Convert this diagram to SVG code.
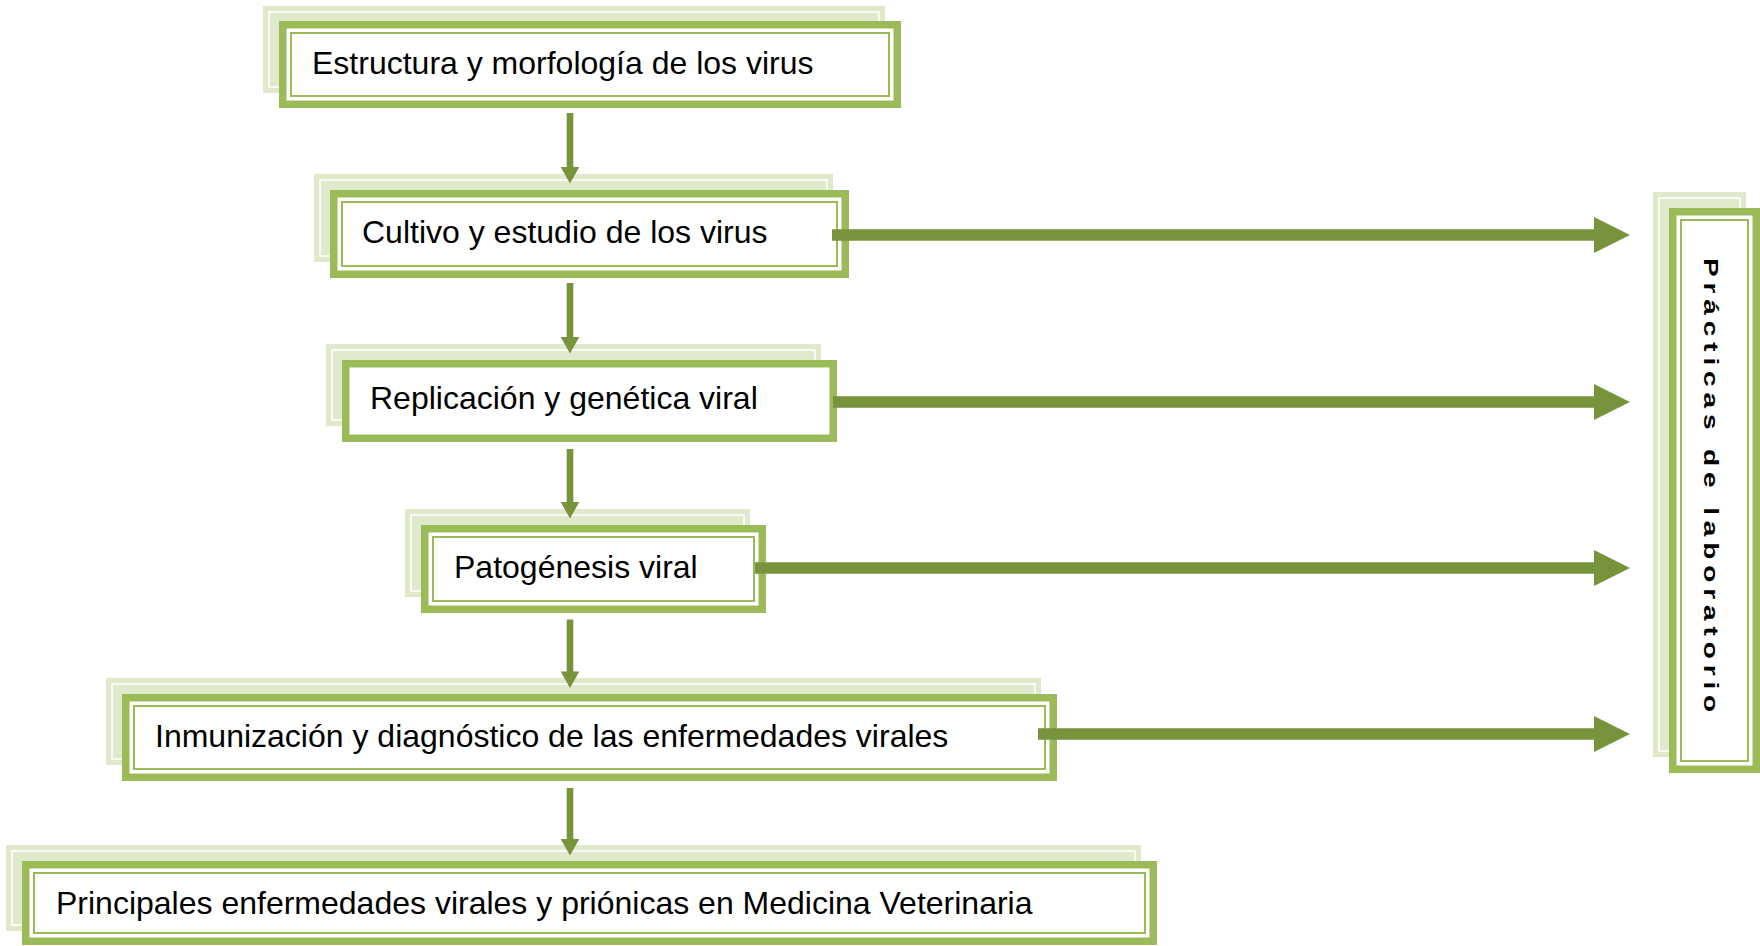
<svg xmlns="http://www.w3.org/2000/svg" width="1760" height="946" viewBox="0 0 1760 946">
<style>
.sh{fill:#e0e9cc}
.shl{fill:none;stroke:#fff;stroke-width:1.5}
.bx{fill:#fff;stroke:#9bbb59;stroke-width:7.5}
.in{fill:none;stroke:#9bbb59;stroke-width:2}
.t{font-family:"Liberation Sans",Arial,sans-serif;font-size:32px;fill:#000}
.vt{font-family:"Liberation Sans",Arial,sans-serif;font-size:20px;font-weight:bold;fill:#000;letter-spacing:4.2px}
.ar{fill:#77933c}
</style>
<rect width="1760" height="946" fill="#fff"/>
<g id="node1">
<rect class="sh" x="263" y="6" width="622" height="87"/>
<rect class="shl" x="269" y="12" width="610" height="75"/>
<rect class="bx" x="282.75" y="24.75" width="614.5" height="79.5"/>
<rect class="in" x="291" y="33" width="598" height="63"/>
<text class="t" x="312" y="74">Estructura y morfología de los virus</text>
</g>
<g id="node2">
<rect class="sh" x="314" y="174" width="519" height="88"/>
<rect class="shl" x="320" y="180" width="507" height="76"/>
<rect class="bx" x="333.75" y="193.75" width="511.5" height="80.5"/>
<rect class="in" x="342" y="202" width="495" height="64"/>
<text class="t" x="362" y="243">Cultivo y estudio de los virus</text>
</g>
<g id="node3">
<rect class="sh" x="326" y="344" width="495" height="82"/>
<rect class="shl" x="332" y="350" width="483" height="70"/>
<rect class="bx" x="345.75" y="363.75" width="487.5" height="74.5"/>
<text class="t" x="370" y="409">Replicación y genética viral</text>
</g>
<g id="node4">
<rect class="sh" x="405" y="509" width="345" height="88"/>
<rect class="shl" x="411" y="515" width="333" height="76"/>
<rect class="bx" x="424.75" y="528.75" width="337.5" height="80.5"/>
<rect class="in" x="433" y="537" width="321" height="64"/>
<text class="t" x="454" y="578">Patogénesis viral</text>
</g>
<g id="node5">
<rect class="sh" x="106" y="678" width="935" height="87"/>
<rect class="shl" x="112" y="684" width="923" height="75"/>
<rect class="bx" x="125.75" y="697.75" width="927.5" height="79.5"/>
<rect class="in" x="134" y="706" width="911" height="63"/>
<text class="t" x="155" y="747">Inmunización y diagnóstico de las enfermedades virales</text>
</g>
<g id="node6">
<rect class="sh" x="6" y="845" width="1135" height="86"/>
<rect class="shl" x="12" y="851" width="1123" height="74"/>
<rect class="bx" x="25.75" y="864.75" width="1127.5" height="76.5"/>
<rect class="in" x="34" y="873" width="1111" height="60"/>
<text class="t" x="56" y="914">Principales enfermedades virales y priónicas en Medicina Veterinaria</text>
</g>
<g id="node7">
<rect class="sh" x="1653" y="192" width="93" height="565"/>
<rect class="shl" x="1659" y="198" width="81" height="553"/>
<rect class="bx" x="1672.75" y="211.75" width="83.5" height="557.5"/>
<rect class="in" x="1681" y="220" width="67" height="541"/>
<text class="vt" transform="translate(1704,258) rotate(90) scale(1.4,1)">Prácticas de laboratorio</text>
</g>
<g id="connectors">
<path class="ar" d="M566.7,113 H573.3 V167 H579.3 L570,183.5 L560.7,167 H566.7 Z"/>
<path class="ar" d="M566.7,283 H573.3 V337 H579.3 L570,353.5 L560.7,337 H566.7 Z"/>
<path class="ar" d="M566.7,449 H573.3 V502 H579.3 L570,518.5 L560.7,502 H566.7 Z"/>
<path class="ar" d="M566.7,619.5 H573.3 V671.5 H579.3 L570,688 L560.7,671.5 H566.7 Z"/>
<path class="ar" d="M566.7,788 H573.3 V839 H579.3 L570,855.5 L560.7,839 H566.7 Z"/>
<path class="ar" d="M832,229.35 H1594 V217 L1630,235 L1594,253 V240.65 H832 Z"/>
<path class="ar" d="M833,396.35 H1594 V384 L1630,402 L1594,420 V407.65 H833 Z"/>
<path class="ar" d="M755,562.35 H1594 V550 L1630,568 L1594,586 V573.65 H755 Z"/>
<path class="ar" d="M1038,728.35 H1594 V716 L1630,734 L1594,752 V739.65 H1038 Z"/>
</g>
</svg>
